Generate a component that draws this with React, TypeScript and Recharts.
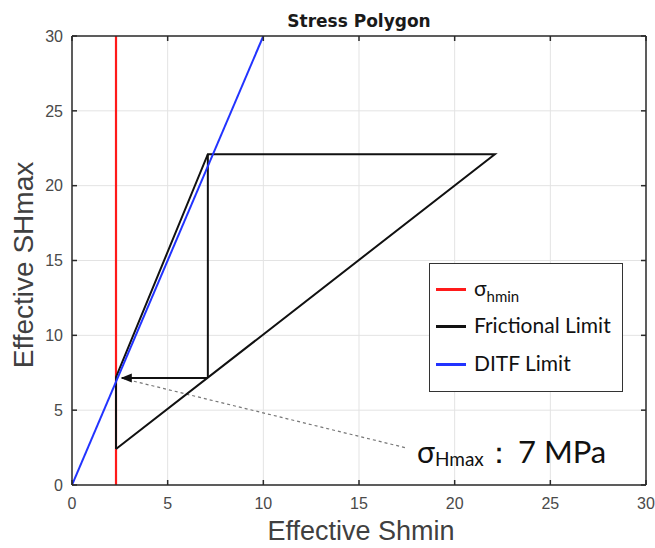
import React from 'react';
import {
  ComposedChart,
  Line,
  Scatter,
  XAxis,
  YAxis,
  CartesianGrid,
  Legend,
  ReferenceDot,
} from 'recharts';

// ---- data ----
const xTicks = [0, 5, 10, 15, 20, 25, 30];
const yTicks = [0, 5, 10, 15, 20, 25, 30];
const seriesNames = ['σ', 'Frictional Limit', 'DITF Limit'];
const seriesSub = ['hmin', '', ''];
const seriesColors = ['#ff1a1a', '#111111', '#2233ff'];
const shminLine = [{ x: 2.3, y: 0 }, { x: 2.3, y: 30 }];
const frictionalPolygon = [
  { x: 2.3, y: 2.4 },
  { x: 2.3, y: 7.2 },
  { x: 7.1, y: 22.1 },
  { x: 22.1, y: 22.1 },
  { x: 2.3, y: 2.4 },
];
const frictionalInner = [{ x: 7.1, y: 7.15 }, { x: 7.1, y: 22.1 }];
const arrowLine = [{ x: 7.1, y: 7.15 }, { x: 2.6, y: 7.15 }];
const arrowTip = [{ x: 2.55, y: 7.15 }];
const ditfLine = [{ x: 0, y: 0 }, { x: 10, y: 30 }];
const annotationLine = [{ x: 17.4, y: 2.5 }, { x: 2.7, y: 7.1 }];
const annotationAnchor = { x: 18.03, y: 1.47 };
const annotationSymbol = 'σ';
const annotationSub = 'Hmax';
const annotationValue = '7 MPa';
const titleText = 'Stress Polygon';
const xLabelText = 'Effective Shmin';
const yLabelText = 'Effective SHmax';

const W = 655;
const H = 548;
const FRAME = '#2b2b2b';
const TICK_FILL = '#4a4a4a';
const LABEL_FILL = '#404040';
const GRID = '#e3e3e3';
const CAL = 'Lato, "Open Sans", sans-serif';
const ARIAL = '"Liberation Sans", Arial, sans-serif';

const LegendBox = () => (
  <div
    style={{
      position: 'relative',
      width: 194,
      height: 129,
      boxSizing: 'border-box',
      border: '1px solid #333',
      background: '#fff',
      fontFamily: CAL,
    }}
  >
    {seriesNames.map((n, i) => {
      const cy = [25, 62, 100][i];
      return (
        <div key={n + i}>
          <div
            style={{
              position: 'absolute',
              left: 6,
              top: cy - 1.5,
              width: 30,
              height: 3,
              background: seriesColors[i],
            }}
          />
          <div
            style={{
              position: 'absolute',
              left: 44,
              top: cy - 14,
              fontSize: 21,
              lineHeight: '26px',
              color: '#111',
              whiteSpace: 'nowrap',
            }}
          >
            {n}
            {seriesSub[i] ? (
              <span style={{ fontSize: 15, position: 'relative', top: 6 }}>{seriesSub[i]}</span>
            ) : null}
          </div>
        </div>
      );
    })}
  </div>
);

const ArrowHead = (p: any) => {
  const { cx, cy } = p;
  return (
    <polygon
      points={`${cx},${cy} ${cx + 11},${cy - 4.5} ${cx + 11},${cy + 4.5}`}
      fill="#111"
    />
  );
};

const TitleLabel = (p: any) => {
  const vb = p.viewBox || { x: 72, y: 0, width: 574 };
  return (
    <text
      x={vb.x + vb.width / 2}
      y={27}
      textAnchor="middle"
      fontFamily='"DejaVu Sans", sans-serif'
      fontWeight="bold"
      fontSize={17}
      fill="#1a1a1a"
    >
      {titleText}
    </text>
  );
};

const XLabel = (p: any) => {
  const vb = p.viewBox || { x: 72, y: 485, width: 574 };
  return (
    <text
      x={vb.x + vb.width / 2 + 2}
      y={540}
      textAnchor="middle"
      fontFamily={ARIAL}
      fontSize={27}
      fill={LABEL_FILL}
    >
      {xLabelText}
    </text>
  );
};

const YLabel = (p: any) => {
  const cx = 33;
  const cy = 265;
  return (
    <text
      x={cx}
      y={cy}
      textAnchor="middle"
      transform={`rotate(-90, ${cx}, ${cy})`}
      fontFamily={ARIAL}
      fontSize={28}
      fill={LABEL_FILL}
    >
      {yLabelText}
    </text>
  );
};

const AnnotationLabel = (p: any) => {
  const vb = p.viewBox || { x: 0, y: 0, width: 0, height: 0 };
  const x = vb.x + (vb.width || 0) / 2;
  const y = vb.y + (vb.height || 0) / 2;
  return (
    <text x={x} y={y} fontFamily={CAL} fill="#111">
      <tspan fontSize={30}>{annotationSymbol}</tspan>
      <tspan fontSize={19} dy={3}>{annotationSub}</tspan>
      <tspan fontSize={30} dy={-3}>：</tspan>
      <tspan x={x + 101} fontSize={31}>{annotationValue}</tspan>
    </text>
  );
};

export default function App() {
  return (
    <div style={{ position: 'absolute', left: 0, top: 0, width: W, height: H, background: '#fff' }}>
      <ComposedChart
        width={W}
        height={H}
        margin={{ top: 0, right: 8, bottom: 33, left: 12 }}
      >
        <CartesianGrid stroke={GRID} strokeWidth={1} />
        <XAxis
          dataKey="x"
          type="number"
          domain={[0, 30]}
          ticks={xTicks}
          allowDataOverflow
          height={30}
          tickSize={-5}
          tickMargin={18}
          axisLine={{ stroke: FRAME, strokeWidth: 1.5 }}
          tickLine={{ stroke: FRAME, strokeWidth: 1.5 }}
          tick={{ fill: TICK_FILL, fontSize: 16, fontFamily: ARIAL }}
          label={{ content: XLabel }}
        />
        <XAxis
          xAxisId="top"
          orientation="top"
          dataKey="x"
          type="number"
          domain={[0, 30]}
          ticks={xTicks}
          allowDataOverflow
          height={36}
          tickSize={-5}
          tickFormatter={() => ''}
          axisLine={{ stroke: FRAME, strokeWidth: 1.5 }}
          tickLine={{ stroke: FRAME, strokeWidth: 1.5 }}
          label={{ content: TitleLabel }}
        />
        <YAxis
          dataKey="y"
          type="number"
          domain={[0, 30]}
          ticks={yTicks}
          allowDataOverflow
          width={60}
          tickSize={-5}
          tickMargin={14}
          axisLine={{ stroke: FRAME, strokeWidth: 1.5 }}
          tickLine={{ stroke: FRAME, strokeWidth: 1.5 }}
          tick={{ fill: TICK_FILL, fontSize: 16, fontFamily: ARIAL }}
          label={{ content: YLabel }}
        />
        <YAxis
          yAxisId="right"
          orientation="right"
          dataKey="y"
          type="number"
          domain={[0, 30]}
          ticks={yTicks}
          allowDataOverflow
          width={1}
          tickSize={-5}
          tickFormatter={() => ''}
          axisLine={{ stroke: FRAME, strokeWidth: 1.5 }}
          tickLine={{ stroke: FRAME, strokeWidth: 1.5 }}
        />
        <Line
          data={annotationLine}
          dataKey="y"
          stroke="#777"
          strokeWidth={1.2}
          strokeDasharray="3 3"
          dot={false}
          isAnimationActive={false}
          legendType="none"
        />
        <Line
          data={shminLine}
          dataKey="y"
          name="σhmin"
          stroke={seriesColors[0]}
          strokeWidth={2.2}
          dot={false}
          isAnimationActive={false}
        />
        <Line
          data={frictionalPolygon}
          dataKey="y"
          name="Frictional Limit"
          stroke={seriesColors[1]}
          strokeWidth={2}
          dot={false}
          isAnimationActive={false}
        />
        <Line
          data={frictionalInner}
          dataKey="y"
          stroke={seriesColors[1]}
          strokeWidth={2}
          dot={false}
          isAnimationActive={false}
          legendType="none"
        />
        <Line
          data={arrowLine}
          dataKey="y"
          stroke={seriesColors[1]}
          strokeWidth={2}
          dot={false}
          isAnimationActive={false}
          legendType="none"
        />
        <Scatter
          data={arrowTip}
          dataKey="y"
          shape={ArrowHead}
          isAnimationActive={false}
          legendType="none"
        />
        <Line
          data={ditfLine}
          dataKey="y"
          name="DITF Limit"
          stroke={seriesColors[2]}
          strokeWidth={2}
          dot={false}
          isAnimationActive={false}
        />
        <ReferenceDot
          x={annotationAnchor.x}
          y={annotationAnchor.y}
          r={0}
          fill="none"
          stroke="none"
          label={{ content: AnnotationLabel }}
        />
        <Legend
          layout="horizontal"
          align="center"
          verticalAlign="middle"
          content={() => <LegendBox />}
          wrapperStyle={{ position: 'absolute', left: 429, top: 263, width: 194, height: 129 }}
        />
      </ComposedChart>
    </div>
  );
}
